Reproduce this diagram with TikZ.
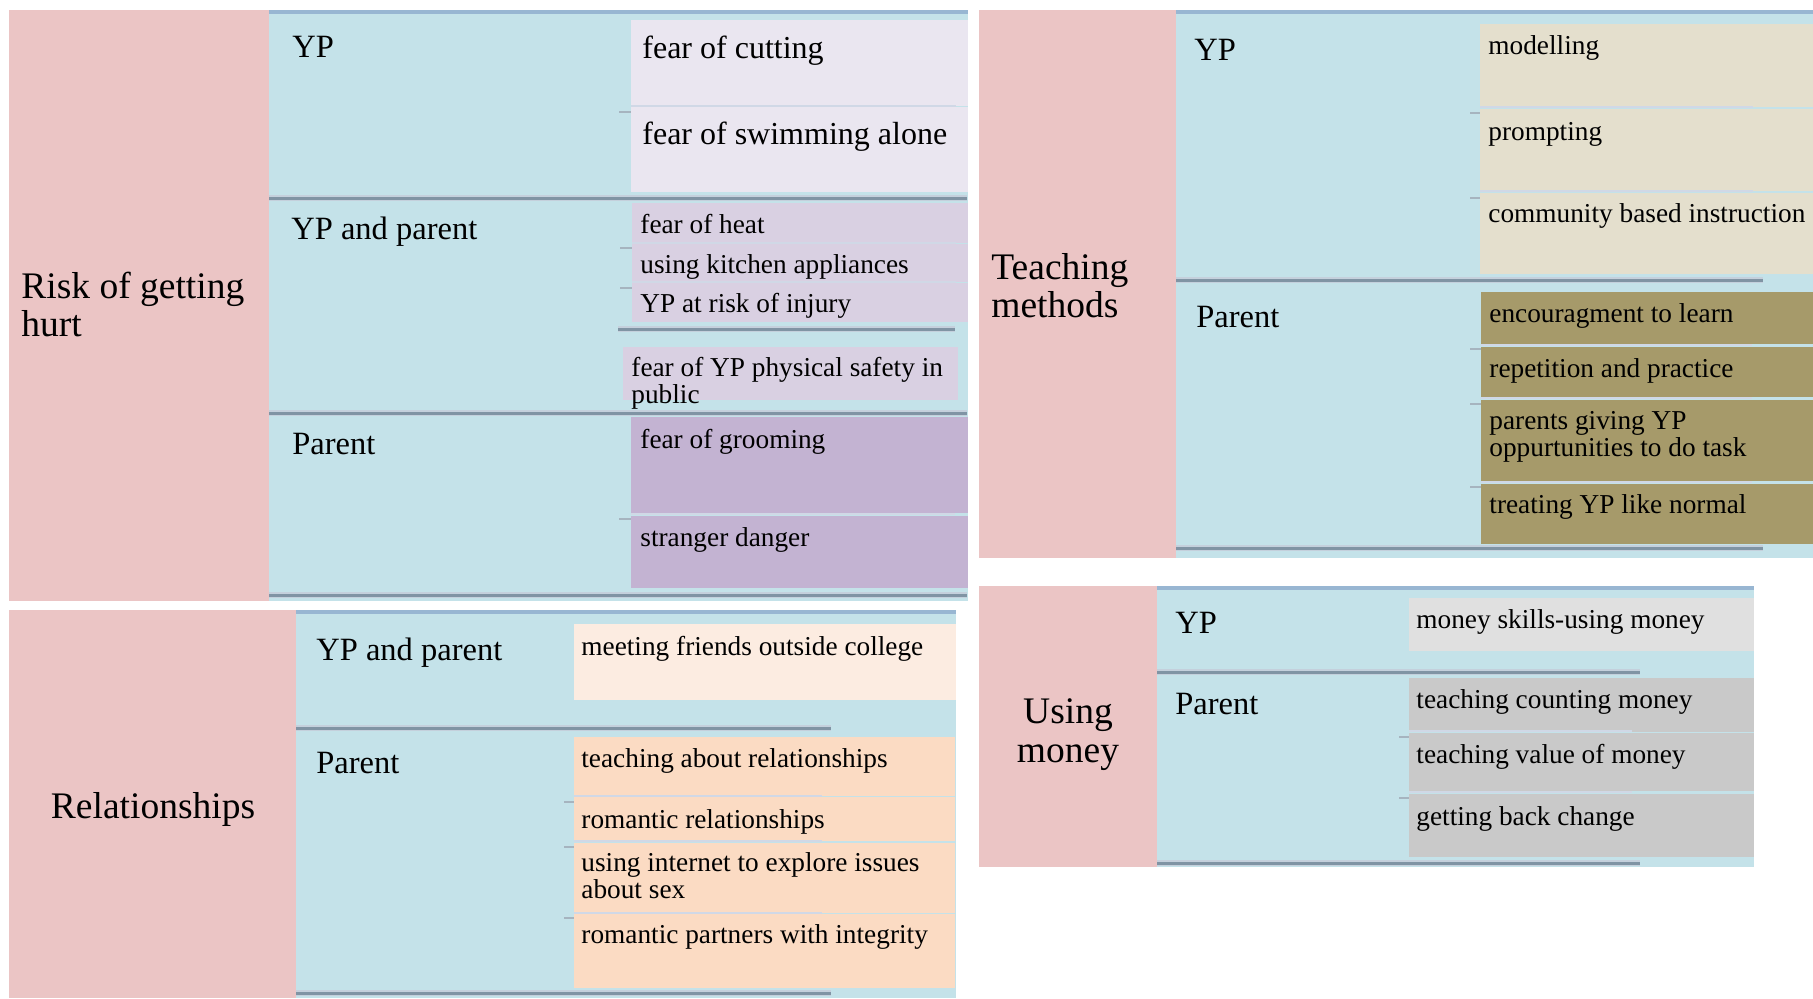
\documentclass[tikz,border=0pt]{standalone}
\usepackage{fontspec}
\setmainfont{Liberation Serif}
\usepackage{xcolor}

\definecolor{headpink}{RGB}{235,197,197}
\definecolor{rowblue}{RGB}{196,226,233}
\definecolor{stripe}{RGB}{152,182,210}
\definecolor{sepgray}{RGB}{128,148,164}
\definecolor{sephalo}{RGB}{196,208,220}
\definecolor{divlight}{RGB}{208,216,230}
\definecolor{lilaclight}{RGB}{234,230,240}
\definecolor{lilacmid}{RGB}{217,208,226}
\definecolor{lilacdark}{RGB}{195,179,210}
\definecolor{sandlight}{RGB}{228,223,205}
\definecolor{olive}{RGB}{166,154,106}
\definecolor{creamlight}{RGB}{252,236,225}
\definecolor{peach}{RGB}{251,219,195}
\definecolor{greylight}{RGB}{224,224,224}
\definecolor{greymid}{RGB}{201,201,201}

\begin{document}
\begin{tikzpicture}[x=0.5pt,y=-0.5pt,
    topic/.style={inner sep=0pt,anchor=base west,align=left,font=\fontsize{18.75}{19}\selectfont},
    who/.style={inner sep=0pt,anchor=base west,font=\fontsize{16.25}{19}\selectfont},
    item/.style={inner sep=0pt,anchor=base west,align=left,font=\fontsize{13.65}{12}\selectfont},
    bigitem/.style={item,font=\fontsize{16}{19}\selectfont},
    sepline/.style={draw=sepgray,line width=1.5pt,preaction={draw=sephalo,line width=3pt}},
    divline/.style={draw=divlight,line width=0.9pt},
    tickline/.style={draw=sepgray!70,line width=1.4pt},
    stripeline/.style={draw=stripe,line width=2pt}]

    \useasboundingbox (0,0) rectangle (1813,998);

    % risk of getting hurt
    \fill[headpink] (9,10) rectangle (269,601);
    \fill[rowblue] (269,10) rectangle (968,601);
    \fill[lilaclight] (631,20) rectangle (968,106);
    \fill[lilaclight] (631,107) rectangle (968,192);
    \fill[lilacmid] (632,203) rectangle (968,243);
    \fill[lilacmid] (632,244) rectangle (968,282);
    \fill[lilacmid] (632,283) rectangle (968,322);
    \fill[lilacmid] (623,347) rectangle (958,400);
    \fill[lilacdark] (631,417) rectangle (968,513);
    \fill[lilacdark] (631,516) rectangle (968,588);

    \draw[stripeline] (269,12) -- (968,12);
    \draw[divline] (631,106) -- (956,106);
    \draw[tickline] (619,112) -- (631,112);
    \draw[sepline] (269,198) -- (967,198);
    \draw[divline] (632,243) -- (956,243);
    \draw[divline] (632,282) -- (956,282);
    \draw[tickline] (620,248) -- (632,248);
    \draw[tickline] (620,288) -- (632,288);
    \draw[sepline] (618,329) -- (955,329);
    \draw[sepline] (269,413) -- (967,413);
    \draw[divline] (631,514) -- (955,514);
    \draw[tickline] (619,519) -- (631,519);
    \draw[sepline] (269,595) -- (967,595);

    % multi-line nodes sit on their last line
    \node[topic] (risk) at (21,336) {Risk of getting\\hurt};
    \node[who] (riskyp) at (292,57) {YP};
    \node[who] (riskboth) at (291,239) {YP and parent};
    \node[who] (riskparent) at (292,454) {Parent};
    \node[bigitem] (cutting) at (642,58) {fear of cutting};
    \node[bigitem] (swimming) at (642,144) {fear of swimming alone};
    \node[item] (heat) at (640,233) {fear of heat};
    \node[item] (kitchen) at (640,273) {using kitchen appliances};
    \node[item] (injury) at (640,312) {YP at risk of injury};
    \node[item] (safety) at (631,403) {fear of YP physical safety in\\public};
    \node[item] (grooming) at (640,448) {fear of grooming};
    \node[item] (stranger) at (640,546) {stranger danger};

    % teaching methods
    \fill[headpink] (979,10) rectangle (1176,558);
    \fill[rowblue] (1176,10) rectangle (1813,558);
    \fill[sandlight] (1480,24) rectangle (1813,107);
    \fill[sandlight] (1480,109) rectangle (1813,191);
    \fill[sandlight] (1480,193) rectangle (1813,274);
    \fill[olive] (1481,292) rectangle (1813,344);
    \fill[olive] (1481,347) rectangle (1813,397);
    \fill[olive] (1481,400) rectangle (1813,481);
    \fill[olive] (1481,484) rectangle (1813,544);

    \draw[stripeline] (1176,12) -- (1813,12);
    \draw[divline] (1480,107) -- (1753,107);
    \draw[divline] (1480,191) -- (1753,191);
    \draw[tickline] (1470,113) -- (1480,113);
    \draw[tickline] (1470,198) -- (1480,198);
    \draw[sepline] (1176,280) -- (1763,280);
    \draw[divline] (1481,345) -- (1752,345);
    \draw[divline] (1481,398) -- (1752,398);
    \draw[divline] (1481,482) -- (1752,482);
    \draw[tickline] (1470,349) -- (1481,349);
    \draw[tickline] (1470,404) -- (1481,404);
    \draw[tickline] (1470,487) -- (1481,487);
    \draw[sepline] (1176,548) -- (1763,548);

    \node[topic] (teach) at (991,317) {Teaching\\methods};
    \node[who] (teachyp) at (1194,60) {YP};
    \node[who] (teachparent) at (1196,327) {Parent};
    \node[item] (modelling) at (1488,54) {modelling};
    \node[item] (prompting) at (1488,140) {prompting};
    \node[item] (community) at (1488,222) {community based instruction};
    \node[item] (encourage) at (1489,322) {encouragment to learn};
    \node[item] (repetition) at (1489,377) {repetition and practice};
    \node[item] (giving) at (1489,456) {parents giving YP\\oppurtunities to do task};
    \node[item] (normal) at (1489,513) {treating YP like normal};

    % relationships
    \fill[headpink] (9,610) rectangle (296,998);
    \fill[rowblue] (296,610) rectangle (956,998);
    \fill[creamlight] (574,624) rectangle (956,700);
    \fill[peach] (574,737) rectangle (955,796);
    \fill[peach] (574,797) rectangle (955,841);
    \fill[peach] (574,843) rectangle (955,913);
    \fill[peach] (574,914) rectangle (955,988);

    \draw[stripeline] (296,612) -- (956,612);
    \draw[sepline] (296,728) -- (831,728);
    \draw[divline] (574,796) -- (822,796);
    \draw[divline] (574,841) -- (822,841);
    \draw[divline] (574,913) -- (822,913);
    \draw[tickline] (564,802) -- (574,802);
    \draw[tickline] (564,847) -- (574,847);
    \draw[tickline] (564,918) -- (574,918);
    \draw[sepline] (296,993) -- (831,993);

    \node[topic,anchor=base] (rel) at (153,818) {Relationships};
    \node[who] (relboth) at (316,660) {YP and parent};
    \node[who] (relparent) at (316,773) {Parent};
    \node[item] (friends) at (581,655) {meeting friends outside college};
    \node[item] (aboutrel) at (581,767) {teaching about relationships};
    \node[item] (romantic) at (581,828) {romantic relationships};
    \node[item] (internet) at (581,898) {using internet to explore issues\\about sex};
    \node[item] (partners) at (581,943) {romantic partners with integrity};

    % using money
    \fill[headpink] (979,586) rectangle (1157,867);
    \fill[rowblue] (1157,586) rectangle (1754,867);
    \fill[greylight] (1409,598) rectangle (1754,651);
    \fill[greymid] (1409,678) rectangle (1754,732);
    \fill[greymid] (1409,733) rectangle (1754,791);
    \fill[greymid] (1409,794) rectangle (1754,857);

    \draw[stripeline] (1157,588) -- (1754,588);
    \draw[sepline] (1157,672) -- (1640,672);
    \draw[divline] (1409,731) -- (1632,731);
    \draw[divline] (1409,792) -- (1632,792);
    \draw[tickline] (1399,737) -- (1409,737);
    \draw[tickline] (1399,798) -- (1409,798);
    \draw[sepline] (1157,863) -- (1640,863);

    \node[topic,anchor=base,align=center,font=\fontsize{18.75}{19.5}\selectfont] (money) at (1068,762) {Using\\money};
    \node[who] (moneyyp) at (1175,633) {YP};
    \node[who] (moneyparent) at (1175,714) {Parent};
    \node[item] (skills) at (1416,628) {money skills-using money};
    \node[item] (counting) at (1416,708) {teaching counting money};
    \node[item] (value) at (1416,763) {teaching value of money};
    \node[item] (change) at (1416,825) {getting back change};

\end{tikzpicture}
\end{document}
